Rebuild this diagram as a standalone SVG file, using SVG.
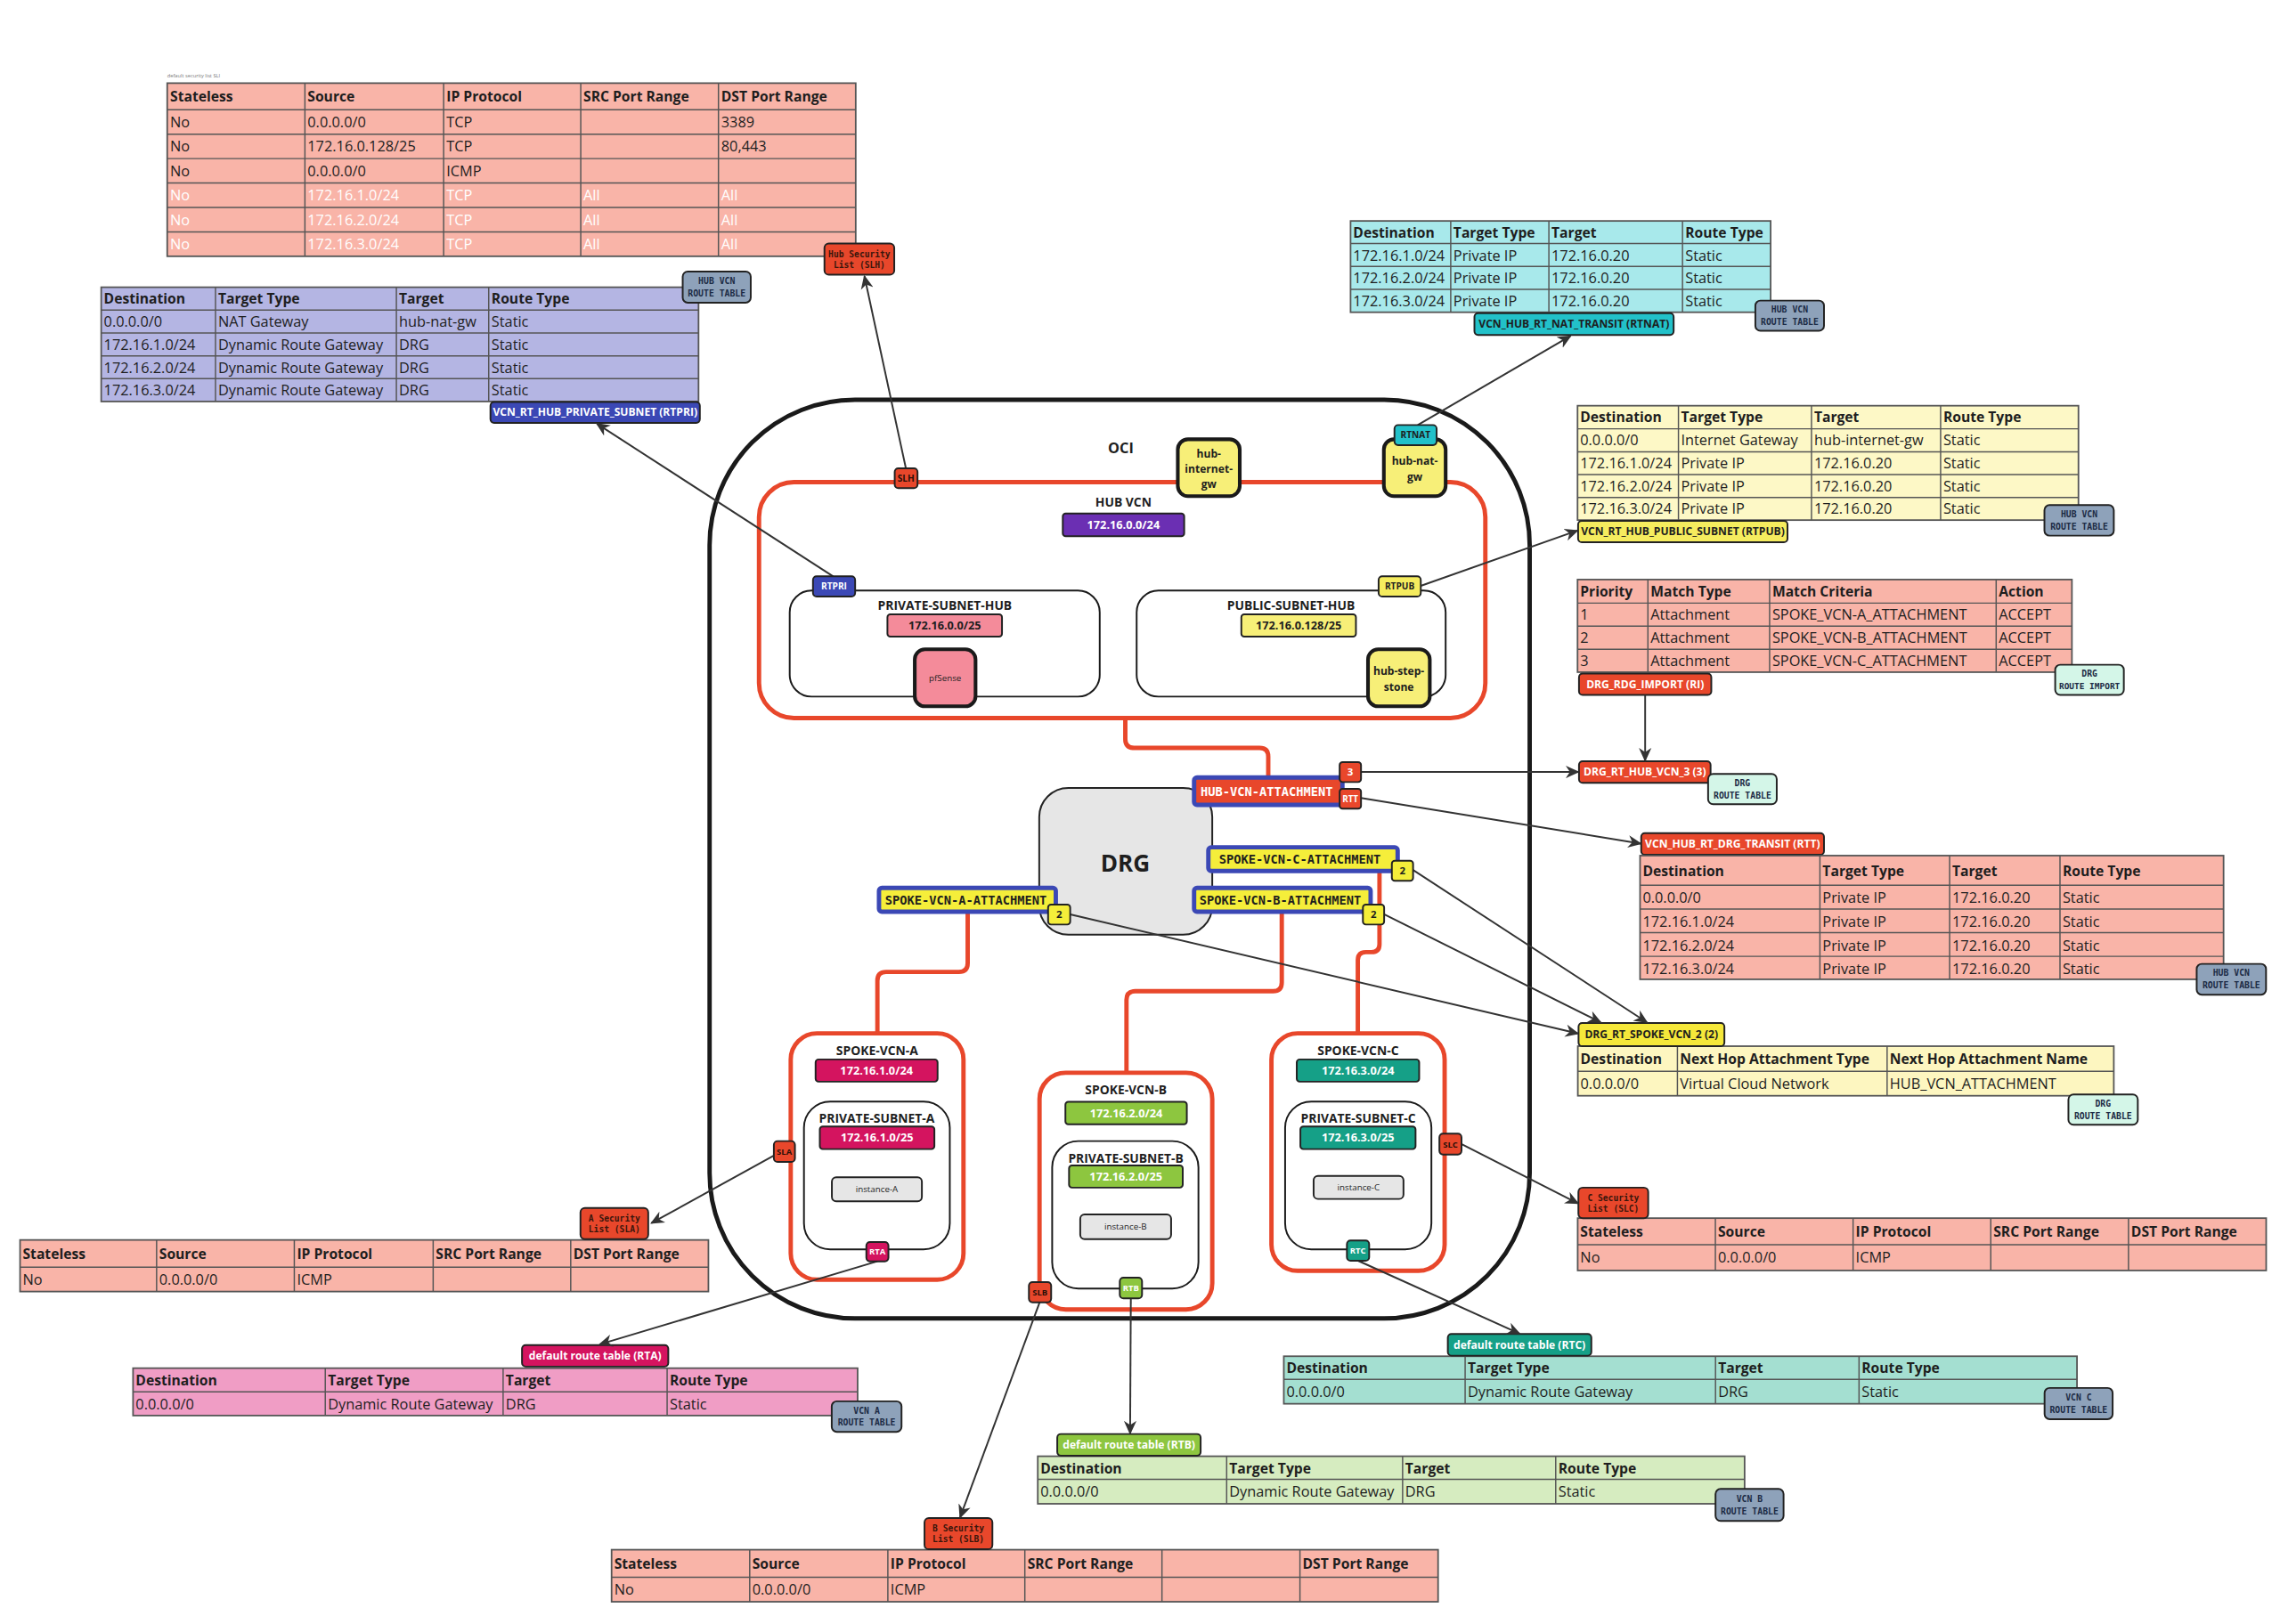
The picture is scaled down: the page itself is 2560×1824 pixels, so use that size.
<svg xmlns="http://www.w3.org/2000/svg" width="2560" height="1824" viewBox="0 0 2560 1824">
<style>
text{font-family:"Open Sans","Noto Sans","Liberation Sans",sans-serif}
.th{font-weight:700;font-size:9.6px;fill:#1e1e1e}
.td{font-size:10px;fill:#1e1e1e}
.tw{font-size:10px;fill:#ffffff}
.grid{stroke:#555;stroke-width:0.9;fill:none}
.tb{stroke:#555;stroke-width:1.1}
.lbl{font-weight:700;font-size:7.4px;text-anchor:middle}
.mono{font-family:"DejaVu Sans Mono","Liberation Mono",monospace;font-weight:700;text-anchor:middle}
.badge{stroke:#222;stroke-width:1.2}
.steel{fill:#8ea2ba;stroke:#222;stroke-width:1.2}
.mint{fill:#d4f6e8;stroke:#222;stroke-width:1.2}
.bt{font-family:"DejaVu Sans Mono","Liberation Mono",monospace;font-weight:700;font-size:6px;text-anchor:middle;fill:#1c2b45}
.sl{font-family:"DejaVu Sans Mono","Liberation Mono",monospace;font-weight:700;font-size:5.9px;text-anchor:middle;fill:#3a160c}
.sm{font-weight:700;font-size:6.2px;text-anchor:middle}
.conn{stroke:#333;stroke-width:1.2;fill:none;marker-end:url(#arr)}
.red{stroke:#e8472b;stroke-width:3;fill:none}
.box{fill:#fff;stroke:#1a1a1a;stroke-width:1.2}
.vcn{fill:#fff;stroke:#e8472b;stroke-width:3}
.title{font-weight:700;font-size:8.5px;text-anchor:middle;fill:#1e1e1e}
.cidr{font-weight:700;font-size:7.8px;text-anchor:middle}
.gw{fill:#f7ef78;stroke:#1a1a1a;stroke-width:2.5}
.gt{font-weight:700;font-size:7.4px;text-anchor:middle;fill:#1e1e1e}
.att{stroke:#3b48b5;stroke-width:3}
.at{font-family:"DejaVu Sans Mono","Liberation Mono",monospace;font-weight:700;font-size:8.4px;text-anchor:middle}
.inst{fill:#e6e6e6;stroke:#222;stroke-width:1.2}
</style>
<defs>
<marker id="arr" viewBox="0 0 10 10" refX="9" refY="5" markerWidth="8" markerHeight="8" orient="auto"><path d="M0,0.5 L10,5 L0,9.5 L3,5 z" fill="#333"/></marker>
</defs>
<rect width="2560" height="1824" fill="#ffffff"/>
<g transform="scale(1.632653)">

<!-- ===== tables ===== -->
<g id="t-hub-sl">
<text x="115" y="53" style="font-size:3.5px;fill:#777">default security list SLI</text>
<rect x="115" y="57.2" width="473.5" height="119.1" fill="#f9b4a8" class="tb"/>
<path class="grid" d="M115,75.5H588.5M115,92.3H588.5M115,109.1H588.5M115,125.9H588.5M115,142.7H588.5M115,159.5H588.5M209.7,57.2V176.3M305.1,57.2V176.3M399.4,57.2V176.3M494.1,57.2V176.3"/>
<text class="th" x="117" y="70">Stateless</text><text class="th" x="211.5" y="70">Source</text><text class="th" x="307" y="70">IP Protocol</text><text class="th" x="401.2" y="70">SRC Port Range</text><text class="th" x="496" y="70">DST Port Range</text>
<text class="td" x="117" y="87.5">No</text><text class="td" x="211.5" y="87.5">0.0.0.0/0</text><text class="td" x="307" y="87.5">TCP</text><text class="td" x="496" y="87.5">3389</text>
<text class="td" x="117" y="104.3">No</text><text class="td" x="211.5" y="104.3">172.16.0.128/25</text><text class="td" x="307" y="104.3">TCP</text><text class="td" x="496" y="104.3">80,443</text>
<text class="td" x="117" y="121.1">No</text><text class="td" x="211.5" y="121.1">0.0.0.0/0</text><text class="td" x="307" y="121.1">ICMP</text>
<text class="tw" x="117" y="137.9">No</text><text class="tw" x="211.5" y="137.9">172.16.1.0/24</text><text class="tw" x="307" y="137.9">TCP</text><text class="tw" x="401.2" y="137.9">All</text><text class="tw" x="496" y="137.9">All</text>
<text class="tw" x="117" y="154.7">No</text><text class="tw" x="211.5" y="154.7">172.16.2.0/24</text><text class="tw" x="307" y="154.7">TCP</text><text class="tw" x="401.2" y="154.7">All</text><text class="tw" x="496" y="154.7">All</text>
<text class="tw" x="117" y="171.5">No</text><text class="tw" x="211.5" y="171.5">172.16.3.0/24</text><text class="tw" x="307" y="171.5">TCP</text><text class="tw" x="401.2" y="171.5">All</text><text class="tw" x="496" y="171.5">All</text>
<rect x="567" y="167.5" width="48" height="21.5" rx="3" fill="#e8472b" class="badge"/>
<text class="sl" x="591" y="176.8">Hub Security</text><text class="sl" x="591" y="184.4">List (SLH)</text>
</g>

<g id="t-rtpri">
<rect x="69.6" y="197.6" width="410.8" height="78.6" fill="#b4b5e3" class="tb"/>
<path class="grid" d="M69.6,213.3H480.4M69.6,229.1H480.4M69.6,244.8H480.4M69.6,260.5H480.4M148.2,197.6V276.2M272.6,197.6V276.2M336.1,197.6V276.2"/>
<text class="th" x="71.4" y="209">Destination</text><text class="th" x="150" y="209">Target Type</text><text class="th" x="274.4" y="209">Target</text><text class="th" x="338" y="209">Route Type</text>
<text class="td" x="71.4" y="225">0.0.0.0/0</text><text class="td" x="150" y="225">NAT Gateway</text><text class="td" x="274.4" y="225">hub-nat-gw</text><text class="td" x="338" y="225">Static</text>
<text class="td" x="71.4" y="240.8">172.16.1.0/24</text><text class="td" x="150" y="240.8">Dynamic Route Gateway</text><text class="td" x="274.4" y="240.8">DRG</text><text class="td" x="338" y="240.8">Static</text>
<text class="td" x="71.4" y="256.5">172.16.2.0/24</text><text class="td" x="150" y="256.5">Dynamic Route Gateway</text><text class="td" x="274.4" y="256.5">DRG</text><text class="td" x="338" y="256.5">Static</text>
<text class="td" x="71.4" y="272.2">172.16.3.0/24</text><text class="td" x="150" y="272.2">Dynamic Route Gateway</text><text class="td" x="274.4" y="272.2">DRG</text><text class="td" x="338" y="272.2">Static</text>
<rect x="469.5" y="186.8" width="46.8" height="21.4" rx="3.5" class="steel"/>
<text class="bt" x="492.9" y="195.4">HUB VCN</text><text class="bt" x="492.9" y="203.8">ROUTE TABLE</text>
<rect x="337.3" y="276.6" width="144" height="14.3" rx="2.5" fill="#3b48b5" class="badge"/>
<text class="lbl" x="409.3" y="286.3" fill="#fff">VCN_RT_HUB_PRIVATE_SUBNET (RTPRI)</text>
</g>

<g id="t-rtnat">
<rect x="928.8" y="152" width="288.9" height="62.8" fill="#a8e9eb" class="tb"/>
<path class="grid" d="M928.8,167.5H1217.7M928.8,183.3H1217.7M928.8,199H1217.7M997.7,152V214.8M1065.2,152V214.8M1157.1,152V214.8"/>
<text class="th" x="930.6" y="163.5">Destination</text><text class="th" x="999.5" y="163.5">Target Type</text><text class="th" x="1067" y="163.5">Target</text><text class="th" x="1159" y="163.5">Route Type</text>
<text class="td" x="930.6" y="179.3">172.16.1.0/24</text><text class="td" x="999.5" y="179.3">Private IP</text><text class="td" x="1067" y="179.3">172.16.0.20</text><text class="td" x="1159" y="179.3">Static</text>
<text class="td" x="930.6" y="195">172.16.2.0/24</text><text class="td" x="999.5" y="195">Private IP</text><text class="td" x="1067" y="195">172.16.0.20</text><text class="td" x="1159" y="195">Static</text>
<text class="td" x="930.6" y="210.8">172.16.3.0/24</text><text class="td" x="999.5" y="210.8">Private IP</text><text class="td" x="1067" y="210.8">172.16.0.20</text><text class="td" x="1159" y="210.8">Static</text>
<rect x="1207.2" y="206.8" width="47.2" height="20.8" rx="3.5" class="steel"/>
<text class="bt" x="1230.8" y="215.2">HUB VCN</text><text class="bt" x="1230.8" y="223.6">ROUTE TABLE</text>
<rect x="1014" y="215.4" width="137" height="15" rx="2.5" fill="#22c1c9" class="badge"/>
<text class="lbl" x="1082.5" y="225.5" fill="#1e1e1e">VCN_HUB_RT_NAT_TRANSIT (RTNAT)</text>
</g>

<g id="t-rtpub">
<rect x="1084.9" y="279.1" width="344.5" height="78.7" fill="#fdf8c6" class="tb"/>
<path class="grid" d="M1084.9,295H1429.4M1084.9,310.8H1429.4M1084.9,326.5H1429.4M1084.9,342.2H1429.4M1154.3,279.1V357.8M1245.8,279.1V357.8M1334.6,279.1V357.8"/>
<text class="th" x="1086.7" y="290.5">Destination</text><text class="th" x="1156.1" y="290.5">Target Type</text><text class="th" x="1247.6" y="290.5">Target</text><text class="th" x="1336.4" y="290.5">Route Type</text>
<text class="td" x="1086.7" y="306.5">0.0.0.0/0</text><text class="td" x="1156.1" y="306.5">Internet Gateway</text><text class="td" x="1247.6" y="306.5">hub-internet-gw</text><text class="td" x="1336.4" y="306.5">Static</text>
<text class="td" x="1086.7" y="322.3">172.16.1.0/24</text><text class="td" x="1156.1" y="322.3">Private IP</text><text class="td" x="1247.6" y="322.3">172.16.0.20</text><text class="td" x="1336.4" y="322.3">Static</text>
<text class="td" x="1086.7" y="338">172.16.2.0/24</text><text class="td" x="1156.1" y="338">Private IP</text><text class="td" x="1247.6" y="338">172.16.0.20</text><text class="td" x="1336.4" y="338">Static</text>
<text class="td" x="1086.7" y="353.7">172.16.3.0/24</text><text class="td" x="1156.1" y="353.7">Private IP</text><text class="td" x="1247.6" y="353.7">172.16.0.20</text><text class="td" x="1336.4" y="353.7">Static</text>
<rect x="1406" y="347.5" width="47.7" height="21" rx="3.5" class="steel"/>
<text class="bt" x="1429.9" y="356">HUB VCN</text><text class="bt" x="1429.9" y="364.4">ROUTE TABLE</text>
<rect x="1085.3" y="358.3" width="144" height="14.7" rx="2.5" fill="#f5ec5e" class="badge"/>
<text class="lbl" x="1157.3" y="368.2" fill="#1e1e1e">VCN_RT_HUB_PUBLIC_SUBNET (RTPUB)</text>
</g>

<g id="t-ri">
<rect x="1084.9" y="398.7" width="340" height="63.7" fill="#f9b4a8" class="tb"/>
<path class="grid" d="M1084.9,414.9H1424.9M1084.9,430.8H1424.9M1084.9,446.7H1424.9M1133.3,398.7V462.4M1217,398.7V462.4M1372.8,398.7V462.4"/>
<text class="th" x="1086.7" y="410.5">Priority</text><text class="th" x="1135.1" y="410.5">Match Type</text><text class="th" x="1218.8" y="410.5">Match Criteria</text><text class="th" x="1374.6" y="410.5">Action</text>
<text class="td" x="1086.7" y="426.5">1</text><text class="td" x="1135.1" y="426.5">Attachment</text><text class="td" x="1218.8" y="426.5">SPOKE_VCN-A_ATTACHMENT</text><text class="td" x="1374.6" y="426.5">ACCEPT</text>
<text class="td" x="1086.7" y="442.4">2</text><text class="td" x="1135.1" y="442.4">Attachment</text><text class="td" x="1218.8" y="442.4">SPOKE_VCN-B_ATTACHMENT</text><text class="td" x="1374.6" y="442.4">ACCEPT</text>
<text class="td" x="1086.7" y="458.2">3</text><text class="td" x="1135.1" y="458.2">Attachment</text><text class="td" x="1218.8" y="458.2">SPOKE_VCN-C_ATTACHMENT</text><text class="td" x="1374.6" y="458.2">ACCEPT</text>
<rect x="1413.4" y="457.3" width="47.2" height="20.8" rx="3.5" class="mint"/>
<text class="bt" x="1437" y="465.7" fill="#1e2a2a">DRG</text><text class="bt" x="1437" y="474.1" style="font-size:5.8px">ROUTE IMPORT</text>
<rect x="1085.9" y="463.4" width="91" height="14.7" rx="2.5" fill="#e8472b" class="badge"/>
<text class="lbl" x="1131.4" y="473.3" fill="#fff">DRG_RDG_IMPORT (RI)</text>
</g>

<g id="t-drg-hub3">
<rect x="1085.9" y="523.7" width="90.5" height="14.9" rx="2.5" fill="#e8472b" class="badge"/>
<text class="lbl" x="1131.2" y="533.7" fill="#fff">DRG_RT_HUB_VCN_3 (3)</text>
<rect x="1174.7" y="532.4" width="47.2" height="20.9" rx="3.5" class="mint"/>
<text class="bt" x="1198.3" y="540.9">DRG</text><text class="bt" x="1198.3" y="549.3">ROUTE TABLE</text>
</g>

<g id="t-rtt">
<rect x="1128.7" y="573.1" width="125.7" height="14.9" rx="2.5" fill="#e8472b" class="badge"/>
<text class="lbl" x="1191.5" y="583.1" fill="#fff">VCN_HUB_RT_DRG_TRANSIT (RTT)</text>
<rect x="1127.9" y="588.6" width="401.3" height="85.1" fill="#f9b4a8" class="tb"/>
<path class="grid" d="M1127.9,609H1529.2M1127.9,625.3H1529.2M1127.9,641.6H1529.2M1127.9,657.9H1529.2M1251.6,588.6V673.7M1340.8,588.6V673.7M1416.7,588.6V673.7"/>
<text class="th" x="1129.7" y="602.5">Destination</text><text class="th" x="1253.4" y="602.5">Target Type</text><text class="th" x="1342.6" y="602.5">Target</text><text class="th" x="1418.5" y="602.5">Route Type</text>
<text class="td" x="1129.7" y="621.3">0.0.0.0/0</text><text class="td" x="1253.4" y="621.3">Private IP</text><text class="td" x="1342.6" y="621.3">172.16.0.20</text><text class="td" x="1418.5" y="621.3">Static</text>
<text class="td" x="1129.7" y="637.6">172.16.1.0/24</text><text class="td" x="1253.4" y="637.6">Private IP</text><text class="td" x="1342.6" y="637.6">172.16.0.20</text><text class="td" x="1418.5" y="637.6">Static</text>
<text class="td" x="1129.7" y="653.9">172.16.2.0/24</text><text class="td" x="1253.4" y="653.9">Private IP</text><text class="td" x="1342.6" y="653.9">172.16.0.20</text><text class="td" x="1418.5" y="653.9">Static</text>
<text class="td" x="1129.7" y="669.9">172.16.3.0/24</text><text class="td" x="1253.4" y="669.9">Private IP</text><text class="td" x="1342.6" y="669.9">172.16.0.20</text><text class="td" x="1418.5" y="669.9">Static</text>
<rect x="1510.7" y="663.1" width="47.7" height="21.2" rx="3.5" class="steel"/>
<text class="bt" x="1534.5" y="671.6">HUB VCN</text><text class="bt" x="1534.5" y="680">ROUTE TABLE</text>
</g>

<g id="t-spoke2">
<rect x="1085.1" y="719.7" width="368.6" height="34.1" fill="#fdf6c0" class="tb"/>
<path class="grid" d="M1085.1,737H1453.7M1153.6,719.7V753.8M1297.8,719.7V753.8"/>
<text class="th" x="1086.9" y="731.8">Destination</text><text class="th" x="1155.4" y="731.8">Next Hop Attachment Type</text><text class="th" x="1299.6" y="731.8">Next Hop Attachment Name</text>
<text class="td" x="1086.9" y="749">0.0.0.0/0</text><text class="td" x="1155.4" y="749">Virtual Cloud Network</text><text class="td" x="1299.6" y="749">HUB_VCN_ATTACHMENT</text>
<rect x="1085.6" y="703.7" width="100.3" height="16" rx="2.5" fill="#f5e83a" class="badge"/>
<text class="lbl" x="1135.7" y="714.3" fill="#1e1e1e">DRG_RT_SPOKE_VCN_2 (2)</text>
<rect x="1422.5" y="752.9" width="47.7" height="20.9" rx="3.5" class="mint"/>
<text class="bt" x="1446.3" y="761.4">DRG</text><text class="bt" x="1446.3" y="769.8">ROUTE TABLE</text>
</g>

<g id="t-slc">
<rect x="1085" y="838" width="473.5" height="36" fill="#f9b4a8" class="tb"/>
<path class="grid" d="M1085,856.3H1558.5M1179.7,838V874M1274.4,838V874M1369.1,838V874M1463.8,838V874"/>
<text class="th" x="1086.8" y="850.8">Stateless</text><text class="th" x="1181.5" y="850.8">Source</text><text class="th" x="1276.2" y="850.8">IP Protocol</text><text class="th" x="1370.9" y="850.8">SRC Port Range</text><text class="th" x="1465.6" y="850.8">DST Port Range</text>
<text class="td" x="1086.8" y="868.8">No</text><text class="td" x="1181.5" y="868.8">0.0.0.0/0</text><text class="td" x="1276.2" y="868.8">ICMP</text>
<rect x="1085.5" y="817" width="48" height="21" rx="3" fill="#e8472b" class="badge"/>
<text class="sl" x="1109.5" y="826">C Security</text><text class="sl" x="1109.5" y="833.6">List (SLC)</text>
</g>

<g id="t-sla">
<rect x="13.8" y="853" width="473.4" height="35.5" fill="#f9b4a8" class="tb"/>
<path class="grid" d="M13.8,871.8H487.2M107.7,853V888.5M202.4,853V888.5M297.9,853V888.5M392.5,853V888.5"/>
<text class="th" x="15.6" y="865.8">Stateless</text><text class="th" x="109.5" y="865.8">Source</text><text class="th" x="204.2" y="865.8">IP Protocol</text><text class="th" x="299.7" y="865.8">SRC Port Range</text><text class="th" x="394.3" y="865.8">DST Port Range</text>
<text class="td" x="15.6" y="883.8">No</text><text class="td" x="109.5" y="883.8">0.0.0.0/0</text><text class="td" x="204.2" y="883.8">ICMP</text>
<rect x="399.2" y="831" width="46.6" height="21.4" rx="3" fill="#e8472b" class="badge"/>
<text class="sl" x="422.5" y="840.2">A Security</text><text class="sl" x="422.5" y="847.9">List (SLA)</text>
</g>

<g id="t-rta">
<rect x="91.5" y="941.2" width="498.3" height="32.6" fill="#f09dc5" class="tb"/>
<path class="grid" d="M91.5,957.5H589.8M223.7,941.2V973.8M346,941.2V973.8M458.8,941.2V973.8"/>
<text class="th" x="93.3" y="953">Destination</text><text class="th" x="225.5" y="953">Target Type</text><text class="th" x="347.8" y="953">Target</text><text class="th" x="460.6" y="953">Route Type</text>
<text class="td" x="93.3" y="969.3">0.0.0.0/0</text><text class="td" x="225.5" y="969.3">Dynamic Route Gateway</text><text class="td" x="347.8" y="969.3">DRG</text><text class="td" x="460.6" y="969.3">Static</text>
<rect x="359" y="925.3" width="100.6" height="14.8" rx="2.5" fill="#d4145f" class="badge"/>
<text class="lbl" x="409.3" y="935.2" fill="#fff">default route table (RTA)</text>
<rect x="572" y="964" width="48" height="21" rx="3.5" class="steel"/>
<text class="bt" x="596" y="972.5">VCN A</text><text class="bt" x="596" y="980.9">ROUTE TABLE</text>
</g>

<g id="t-rtc">
<rect x="882.9" y="933" width="545.5" height="32.7" fill="#a4dfd1" class="tb"/>
<path class="grid" d="M882.9,948.9H1428.4M1007.6,933V965.7M1179.8,933V965.7M1278.5,933V965.7"/>
<text class="th" x="884.7" y="944.7">Destination</text><text class="th" x="1009.4" y="944.7">Target Type</text><text class="th" x="1181.6" y="944.7">Target</text><text class="th" x="1280.3" y="944.7">Route Type</text>
<text class="td" x="884.7" y="961">0.0.0.0/0</text><text class="td" x="1009.4" y="961">Dynamic Route Gateway</text><text class="td" x="1181.6" y="961">DRG</text><text class="td" x="1280.3" y="961">Static</text>
<rect x="995.7" y="917.7" width="98.7" height="14.9" rx="2.5" fill="#15a087" class="badge"/>
<text class="lbl" x="1045" y="927.7" fill="#fff">default route table (RTC)</text>
<rect x="1406.1" y="954.8" width="46.8" height="21.5" rx="3.5" class="steel"/>
<text class="bt" x="1429.5" y="963.5">VCN C</text><text class="bt" x="1429.5" y="971.9">ROUTE TABLE</text>
</g>

<g id="t-rtb">
<rect x="713.7" y="1001.8" width="486.1" height="32.7" fill="#d6ecc0" class="tb"/>
<path class="grid" d="M713.7,1017.7H1199.8M843.6,1001.8V1034.5M964.6,1001.8V1034.5M1069.9,1001.8V1034.5"/>
<text class="th" x="715.5" y="1013.5">Destination</text><text class="th" x="845.4" y="1013.5">Target Type</text><text class="th" x="966.4" y="1013.5">Target</text><text class="th" x="1071.7" y="1013.5">Route Type</text>
<text class="td" x="715.5" y="1029.8">0.0.0.0/0</text><text class="td" x="845.4" y="1029.8">Dynamic Route Gateway</text><text class="td" x="966.4" y="1029.8">DRG</text><text class="td" x="1071.7" y="1029.8">Static</text>
<rect x="727.1" y="986.5" width="98.6" height="14.9" rx="2.5" fill="#8dc63f" class="badge"/>
<text class="lbl" x="776.4" y="996.5" fill="#fff">default route table (RTB)</text>
<rect x="1179.8" y="1024.3" width="46.8" height="22" rx="3.5" class="steel"/>
<text class="bt" x="1203.2" y="1033.2">VCN B</text><text class="bt" x="1203.2" y="1041.6">ROUTE TABLE</text>
</g>

<g id="t-slb">
<rect x="420.6" y="1066.1" width="568.4" height="35.8" fill="#f9b4a8" class="tb"/>
<path class="grid" d="M420.6,1085.1H989M515.6,1066.1V1101.9M610.6,1066.1V1101.9M704.8,1066.1V1101.9M799.1,1066.1V1101.9M894,1066.1V1101.9"/>
<text class="th" x="422.4" y="1079">Stateless</text><text class="th" x="517.4" y="1079">Source</text><text class="th" x="612.4" y="1079">IP Protocol</text><text class="th" x="706.6" y="1079">SRC Port Range</text><text class="th" x="895.8" y="1079">DST Port Range</text>
<text class="td" x="422.4" y="1097">No</text><text class="td" x="517.4" y="1097">0.0.0.0/0</text><text class="td" x="612.4" y="1097">ICMP</text>
<rect x="635.8" y="1044.3" width="46.7" height="21.5" rx="3" fill="#e8472b" class="badge"/>
<text class="sl" x="659.1" y="1053.4">B Security</text><text class="sl" x="659.1" y="1061">List (SLB)</text>
</g>

<!-- ===== containers ===== -->
<g id="oci">
<rect x="488" y="275" width="564" height="632" rx="100" fill="none" stroke="#1a1a1a" stroke-width="3"/>
<text x="770.8" y="311.5" style="font-weight:700;font-size:10px;text-anchor:middle;fill:#1e1e1e">OCI</text>
</g>
<g id="hub-vcn">
<rect x="522" y="331.7" width="499.5" height="162.3" rx="24" fill="none" stroke="#e8472b" stroke-width="3"/>
<text class="title" x="772.6" y="348.5">HUB VCN</text>
<rect x="730.9" y="353.2" width="83.5" height="15.7" rx="2" fill="#6b2fb3" class="badge"/>
<text class="cidr" x="772.6" y="363.8" fill="#fff">172.16.0.0/24</text>
</g>
<g id="private-subnet-hub">
<rect x="543.1" y="406.3" width="213.2" height="72.9" rx="15" class="box"/>
<text class="title" x="649.8" y="419.8">PRIVATE-SUBNET-HUB</text>
<rect x="610.3" y="422.6" width="78.8" height="15.3" rx="2" fill="#f48b9a" class="badge"/>
<text class="cidr" x="649.7" y="433" fill="#1e1e1e">172.16.0.0/25</text>
</g>
<g id="public-subnet-hub">
<rect x="781.7" y="406.3" width="212.5" height="72.9" rx="15" class="box"/>
<text class="title" x="887.8" y="419.8">PUBLIC-SUBNET-HUB</text>
<rect x="853.7" y="422.6" width="78.8" height="15.3" rx="2" fill="#f7ef78" class="badge"/>
<text class="cidr" x="893.1" y="433" fill="#1e1e1e">172.16.0.128/25</text>
</g>
<g id="spoke-vcn-a">
<rect x="543.8" y="710.9" width="118.8" height="169.4" rx="18" class="vcn"/>
<text class="title" x="603.2" y="726">SPOKE-VCN-A</text>
<rect x="560.9" y="728.8" width="83.9" height="15.3" rx="2" fill="#d4145f" class="badge"/>
<text class="cidr" x="602.8" y="739.2" fill="#fff">172.16.1.0/24</text>
<rect x="552.9" y="757.8" width="100.3" height="101.7" rx="18" class="box"/>
<text class="title" x="603" y="772.5">PRIVATE-SUBNET-A</text>
<rect x="563.8" y="775" width="78.8" height="15.5" rx="2" fill="#d4145f" class="badge"/>
<text class="cidr" x="603.2" y="785.5" fill="#fff">172.16.1.0/25</text>
</g>
<g id="spoke-vcn-b">
<rect x="714.9" y="738" width="118.8" height="162.8" rx="18" class="vcn"/>
<text class="title" x="774.3" y="753">SPOKE-VCN-B</text>
<rect x="732.7" y="758" width="83.5" height="15.4" rx="2" fill="#8dc63f" class="badge"/>
<text class="cidr" x="774.5" y="768.4" fill="#fff">172.16.2.0/24</text>
<rect x="723.6" y="785" width="100.6" height="101.4" rx="18" class="box"/>
<text class="title" x="774.3" y="799.7">PRIVATE-SUBNET-B</text>
<rect x="735.2" y="801.7" width="78.2" height="15.3" rx="2" fill="#8dc63f" class="badge"/>
<text class="cidr" x="774.3" y="812.1" fill="#fff">172.16.2.0/25</text>
</g>
<g id="spoke-vcn-c">
<rect x="874.4" y="710.9" width="119.1" height="163.3" rx="18" class="vcn"/>
<text class="title" x="934" y="726">SPOKE-VCN-C</text>
<rect x="891.8" y="728.8" width="84.2" height="15.3" rx="2" fill="#15a087" class="badge"/>
<text class="cidr" x="933.9" y="739.2" fill="#fff">172.16.3.0/24</text>
<rect x="883.8" y="757.8" width="100.6" height="101.7" rx="18" class="box"/>
<text class="title" x="934.1" y="772.5">PRIVATE-SUBNET-C</text>
<rect x="894.3" y="775" width="79.2" height="15.5" rx="2" fill="#15a087" class="badge"/>
<text class="cidr" x="933.9" y="785.5" fill="#fff">172.16.3.0/25</text>
</g>
<g id="drg">
<rect x="714.7" y="542" width="119" height="101" rx="20" fill="#e6e6e6" stroke="#222" stroke-width="1.2"/>
<text x="773.9" y="599.5" style="font-weight:700;font-size:16px;text-anchor:middle;fill:#1e1e1e">DRG</text>
</g>

<!-- ===== connectors ===== -->
<g id="connectors">
<path class="red" d="M773.9,494V508.5Q773.9,514.5 779.9,514.5H866.2Q872.2,514.5 872.2,520.5V535"/>
<path class="red" d="M665.5,627.2V662.6Q665.5,668.6 659.5,668.6H609.4Q603.4,668.6 603.4,674.6V711"/>
<path class="red" d="M881.5,627.2V675.9Q881.5,681.9 875.5,681.9H780.7Q774.7,681.9 774.7,687.9V738"/>
<path class="red" d="M948.7,599.2V649.5Q948.7,655 943.2,655H939.3Q933.8,655 933.8,660.5V711"/>
<path class="conn" d="M623,322.2L594.5,190"/>
<path class="conn" d="M573,396.5L410.5,291.5"/>
<path class="conn" d="M975,292.4L1080,231.2"/>
<path class="conn" d="M977.1,403L1084.8,365"/>
<path class="conn" d="M1131.4,478.1V523.2"/>
<path class="conn" d="M936,531H1085.4"/>
<path class="conn" d="M936,549L1128.3,580.3"/>
<path class="conn" d="M971.8,598.5L1132.6,703.3"/>
<path class="conn" d="M951.9,629L1100.8,703.3"/>
<path class="conn" d="M736,629L1085.2,711"/>
<path class="conn" d="M532.2,795L448,841.4"/>
<path class="conn" d="M603.4,867.7L412.5,924.8"/>
<path class="conn" d="M715,895.9L660.3,1043.8"/>
<path class="conn" d="M777.7,893.2L777.2,986.1"/>
<path class="conn" d="M934,867.3L1045,917.5"/>
<path class="conn" d="M1005,787L1085.2,827.8"/>
</g>

<!-- ===== small nodes ===== -->
<g id="hub-internet-gw">
<rect x="810" y="302.2" width="42.6" height="39.1" rx="7" class="gw"/>
<text class="gt" x="831.3" y="314.7">hub-</text><text class="gt" x="831.3" y="325">internet-</text><text class="gt" x="831.3" y="335.5">gw</text>
</g>
<g id="hub-nat-gw">
<rect x="951.7" y="302.2" width="42.5" height="39.1" rx="7" class="gw"/>
<text class="gt" x="973" y="319.5">hub-nat-</text><text class="gt" x="973" y="330.5">gw</text>
</g>
<g id="pfsense">
<rect x="629.1" y="446.7" width="41.8" height="39.2" rx="7" fill="#f48b9a" stroke="#1a1a1a" stroke-width="2.5"/>
<text x="650" y="468.3" style="font-size:6px;text-anchor:middle;fill:#1e1e1e">pfSense</text>
</g>
<g id="hub-step-stone">
<rect x="940.8" y="446.7" width="42.5" height="39.2" rx="7" class="gw"/>
<text class="gt" x="962" y="464">hub-step-</text><text class="gt" x="962" y="475.5">stone</text>
</g>
<g id="slh"><rect x="615.3" y="322.2" width="15.7" height="13.6" rx="2.5" fill="#e8472b" class="badge"/><text class="sm" x="623.1" y="331.3" fill="#2a0f08">SLH</text></g>
<g id="rtnat"><rect x="959" y="292.4" width="29" height="13.8" rx="2.5" fill="#22c1c9" class="badge"/><text class="sm" x="973.5" y="301.6" fill="#1e1e1e">RTNAT</text></g>
<g id="rtpri"><rect x="559.1" y="396.5" width="29" height="13.9" rx="2.5" fill="#3b48b5" class="badge"/><text class="sm" x="573.6" y="405.7" fill="#fff">RTPRI</text></g>
<g id="rtpub"><rect x="948.1" y="396.5" width="29" height="13.9" rx="2.5" fill="#f5ec5e" class="badge"/><text class="sm" x="962.6" y="405.7" fill="#1e1e1e">RTPUB</text></g>

<g id="hub-vcn-attachment">
<rect x="821.2" y="534.9" width="102" height="18.8" rx="2" fill="#e8472b" class="att"/>
<text class="at" x="871.2" y="547.3" fill="#fff">HUB-VCN-ATTACHMENT</text>
</g>
<g id="b3"><rect x="921.3" y="524.3" width="14.7" height="13.7" rx="2" fill="#e8472b" class="badge"/><text class="sm" x="928.6" y="533.5" fill="#fff" style="font-size:7px">3</text></g>
<g id="rtt"><rect x="921.3" y="542.7" width="14.7" height="13.6" rx="2" fill="#e8472b" class="badge"/><text class="sm" x="928.6" y="551.8" fill="#fff" style="font-size:6px">RTT</text></g>

<g id="spoke-vcn-c-attachment">
<rect x="831" y="582.9" width="130.2" height="16.3" rx="2" fill="#f5ee3a" class="att"/>
<text class="at" x="894" y="594.2" fill="#1e1e1e">SPOKE-VCN-C-ATTACHMENT</text>
</g>
<g id="c2"><rect x="957.2" y="592.1" width="14.6" height="13.8" rx="2" fill="#f5ee3a" class="badge"/><text class="sm" x="964.5" y="601.5" fill="#1e1e1e" style="font-size:7px">2</text></g>
<g id="spoke-vcn-b-attachment">
<rect x="821.2" y="610.8" width="121.4" height="16.4" rx="2" fill="#f5ee3a" class="att"/>
<text class="at" x="880.5" y="622.1" fill="#1e1e1e">SPOKE-VCN-B-ATTACHMENT</text>
</g>
<g id="bb2"><rect x="937.3" y="622.3" width="14.6" height="13.7" rx="2" fill="#f5ee3a" class="badge"/><text class="sm" x="944.6" y="631.6" fill="#1e1e1e" style="font-size:7px">2</text></g>
<g id="spoke-vcn-a-attachment">
<rect x="604.5" y="610.8" width="121.6" height="16.4" rx="2" fill="#f5ee3a" class="att"/>
<text class="at" x="664.3" y="622.1" fill="#1e1e1e">SPOKE-VCN-A-ATTACHMENT</text>
</g>
<g id="a2"><rect x="720.8" y="622.3" width="15.2" height="13.7" rx="2" fill="#f5ee3a" class="badge"/><text class="sm" x="728.4" y="631.6" fill="#1e1e1e" style="font-size:7px">2</text></g>

<g id="instance-a"><rect x="572.1" y="809.9" width="61.9" height="16.5" rx="3" class="inst"/><text x="603" y="820.4" style="font-size:6px;text-anchor:middle;fill:#1e1e1e">instance-A</text></g>
<g id="instance-b"><rect x="742.9" y="835.4" width="62.5" height="17" rx="3" class="inst"/><text x="774.1" y="846.1" style="font-size:6px;text-anchor:middle;fill:#1e1e1e">instance-B</text></g>
<g id="instance-c"><rect x="903.4" y="808.9" width="61.8" height="15.9" rx="3" class="inst"/><text x="934.3" y="819" style="font-size:6px;text-anchor:middle;fill:#1e1e1e">instance-C</text></g>
<g id="sla"><rect x="532.2" y="785" width="14.5" height="14.3" rx="2.5" fill="#e8472b" class="badge"/><text class="sm" x="539.4" y="794.4" fill="#2a0f08" style="font-size:5.8px">SLA</text></g>
<g id="rta"><rect x="595.8" y="854.4" width="15.2" height="13.3" rx="2.5" fill="#d4145f" class="badge"/><text class="sm" x="603.4" y="863.3" fill="#fff" style="font-size:5.8px">RTA</text></g>
<g id="slb"><rect x="707.6" y="882" width="15.3" height="13.9" rx="2.5" fill="#e8472b" class="badge"/><text class="sm" x="715.2" y="891.2" fill="#2a0f08" style="font-size:5.8px">SLB</text></g>
<g id="rtb"><rect x="770.1" y="878.9" width="15.3" height="14.3" rx="2.5" fill="#8dc63f" class="badge"/><text class="sm" x="777.7" y="888.3" fill="#fff" style="font-size:5.8px">RTB</text></g>
<g id="slc"><rect x="989.9" y="779.9" width="15.2" height="14.3" rx="2.5" fill="#e8472b" class="badge"/><text class="sm" x="997.5" y="789.3" fill="#2a0f08" style="font-size:5.8px">SLC</text></g>
<g id="rtc"><rect x="926.3" y="853.4" width="15.3" height="13.9" rx="2.5" fill="#15a087" class="badge"/><text class="sm" x="933.9" y="862.6" fill="#fff" style="font-size:5.8px">RTC</text></g>

</g>
</svg>
